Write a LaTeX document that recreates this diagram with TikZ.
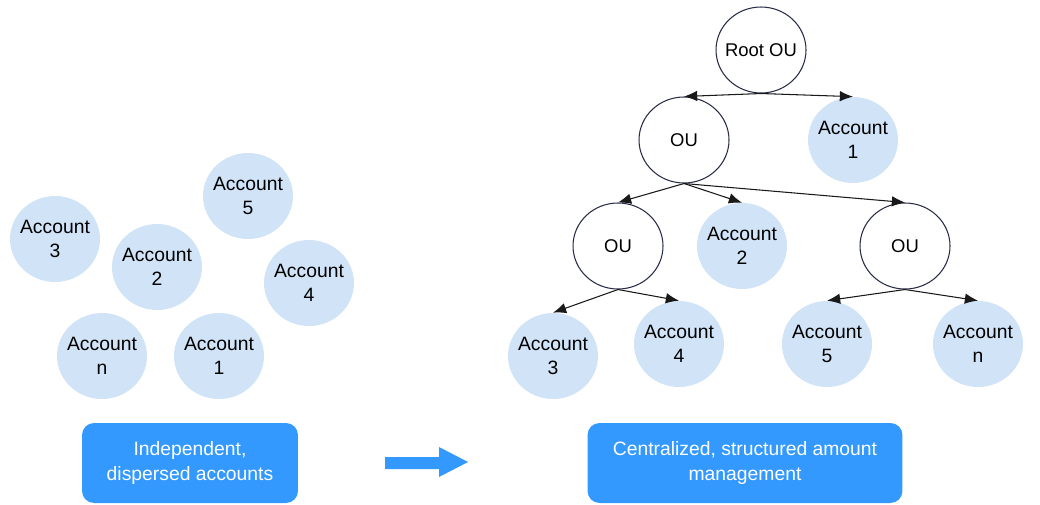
\documentclass[tikz,border=0pt]{standalone}
\usepackage{fontspec}
\setmainfont{Liberation Sans}
\usetikzlibrary{arrows,arrows.meta,positioning,shapes}
\definecolor{acctblue}{RGB}{208,227,247}
\definecolor{boxblue}{RGB}{51,153,255}
\definecolor{ouline}{RGB}{40,44,72}
\tikzset{
  acct/.style={ellipse,fill=acctblue,minimum width=1.8cm,minimum height=1.72cm,inner xsep=-3pt,inner ysep=0pt,align=center,font=\fontsize{11}{14}\selectfont},
  ounode/.style={ellipse,draw=ouline,line width=0.6pt,minimum width=1.8cm,minimum height=1.72cm,inner xsep=-3pt,inner ysep=0pt,font=\fontsize{10.5}{14}\selectfont},
  notebox/.style={rounded corners=0.24cm,fill=boxblue,text=white,minimum height=1.6cm,align=center,font=\fontsize{11}{14}\selectfont},
  link/.style={-{Latex[length=7.5pt,width=6pt]},line width=0.6pt,draw=black!90}
}

\begin{document}
\begin{tikzpicture}[x=0.02cm,y=-0.02cm]
\useasboundingbox (0,0) rectangle (1040,504);
% loose accounts
\node[acct] (la5) at (248,196) {Account\\5};
\node[acct] (la3) at (55,239) {Account\\3};
\node[acct] (la2) at (157,267) {Account\\2};
\node[acct] (la4) at (309,283) {Account\\4};
\node[acct] (lan) at (102,356) {Account\\n};
\node[acct] (la1) at (219,356) {Account\\1};
% tree
\node[ounode] (root) at (761,50) {Root OU};
\node[ounode] (ou1) at (684,140) {OU};
\node[acct] (ta1) at (853,140) {Account\\1};
\node[ounode] (ou2) at (618,246) {OU};
\node[acct] (ta2) at (742,246) {Account\\2};
\node[ounode] (ou3) at (905,246) {OU};
\node[acct] (ta3) at (553,356) {Account\\3};
\node[acct] (ta4) at (679,344) {Account\\4};
\node[acct] (ta5) at (827,344) {Account\\5};
\node[acct] (tan) at (978,344) {Account\\n};
\draw[link] (root.south)--(ou1.north);
\draw[link] (root.south)--(ta1.north);
\draw[link] (ou1.south)--(ou2.north);
\draw[link] (ou1.south)--(ta2.north);
\draw[link] (ou1.south)--(ou3.north);
\draw[link] (ou2.south)--(ta3.north);
\draw[link] (ou2.south)--(ta4.north);
\draw[link] (ou3.south)--(ta5.north);
\draw[link] (ou3.south)--(tan.north);
% captions
\node[notebox,minimum width=4.32cm] (before) at (190,463) {Independent,\\dispersed accounts};
\node[notebox,minimum width=6.3cm] (after) at (745,463) {Centralized, structured amount\\management};
\fill[boxblue] (385,457)--(439,457)--(439,447)--(468,462)--(439,477)--(439,469)--(385,469)--cycle;
\end{tikzpicture}
\end{document}
